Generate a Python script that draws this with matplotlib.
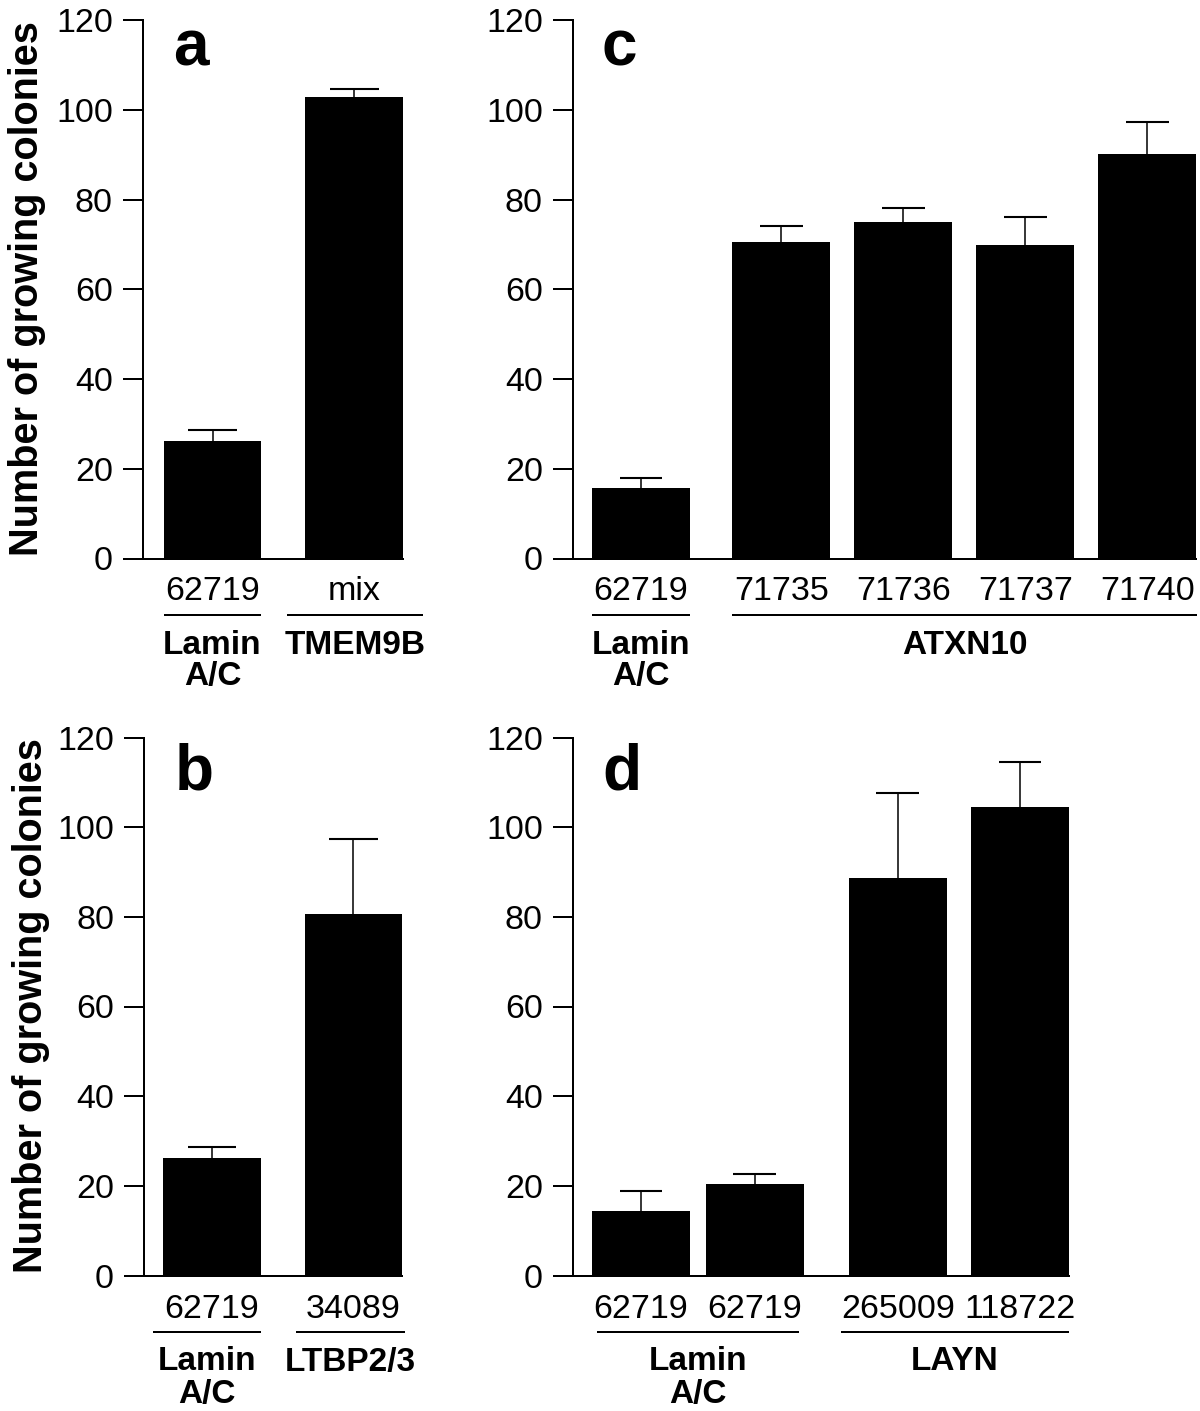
import matplotlib
matplotlib.use("Agg")
import matplotlib.pyplot as plt
from matplotlib.transforms import offset_copy
import numpy as np

plt.rcParams['font.family'] = ['Liberation Sans', 'DejaVu Sans']

# ---------------- data ----------------
a_labels = ["62719", "mix"]
a_values = [26.2, 102.9]
a_errors = [2.4, 1.7]
a_groups = ["Lamin\nA/C", "TMEM9B"]
a_members = [[0], [1]]

b_labels = ["62719", "34089"]
b_values = [26.2, 80.6]
b_errors = [2.5, 16.8]
b_groups = ["Lamin\nA/C", "LTBP2/3"]
b_members = [[0], [1]]

c_labels = ["62719", "71735", "71736", "71737", "71740"]
c_values = [15.7, 70.5, 74.9, 69.9, 90.1]
c_errors = [2.2, 3.5, 3.3, 6.1, 7.1]
c_groups = ["Lamin\nA/C", "ATXN10"]
c_members = [[0], [1, 2, 3, 4]]

d_labels = ["62719", "62719", "265009", "118722"]
d_values = [14.4, 20.5, 88.6, 104.6]
d_errors = [4.5, 2.2, 19.0, 9.9]
d_groups = ["Lamin\nA/C", "LAYN"]
d_members = [[0, 1], [2, 3]]

y_ticks = [0, 20, 40, 60, 80, 100, 120]
y_label = "Number of growing colonies"

# ---------------- layout ----------------
W, H, DPI = 1200, 1411, 100
fig = plt.figure(figsize=(W / DPI, H / DPI), dpi=DPI)

def px_axes(left, right, top, bottom):
    return fig.add_axes([left / W, 1 - bottom / H, (right - left) / W, (bottom - top) / H])

panels = [
    dict(box=(143, 403, 20, 558.5), pos=[0, 1], width=0.69, lead=0.491, cap=0.173,
         labels=a_labels, values=a_values, errors=a_errors, groups=a_groups, members=a_members,
         ext=[(0.0, 0.0), (0.127, 0.141)], letter="a", letter_xy=(173, 65)),
    dict(box=(144, 402, 737.5, 1275.5), pos=[0, 1], width=0.69, lead=0.482, cap=0.173,
         labels=b_labels, values=b_values, errors=b_errors, groups=b_groups, members=b_members,
         ext=[(0.07, 0.0), (0.064, 0.02)], letter="b", letter_xy=(175, 790)),
    dict(box=(573, 1196, 20, 558.5), pos=[0, 1.15, 2.15, 3.15, 4.15], width=0.8, lead=0.557, cap=0.175,
         labels=c_labels, values=c_values, errors=c_errors, groups=c_groups, members=c_members,
         ext=[(0.0, 0.0), (0.0, 0.01)], letter="c", letter_xy=(602, 65)),
    dict(box=(573, 1069, 737.5, 1275.5), pos=[0, 0.93, 2.1, 3.1], width=0.8, lead=0.557, cap=0.175,
         labels=d_labels, values=d_values, errors=d_errors, groups=d_groups, members=d_members,
         ext=[(-0.04, -0.04), (0.065, 0.0)], letter="d", letter_xy=(602, 790)),
]

LW = 1.44
FS = 24.5
FSB = 24

for p in panels:
    ax = px_axes(*p["box"])
    pos = np.array(p["pos"], dtype=float)
    vals = np.array(p["values"])
    errs = np.array(p["errors"])
    w = p["width"]
    ax.bar(pos, vals, width=w, color="black", edgecolor="none", zorder=2)
    top = vals + errs
    ax.vlines(pos, vals, top, color="black", lw=1.1, zorder=1)
    ax.hlines(top, pos - p["cap"], pos + p["cap"], color="black", lw=1.5, zorder=1)

    ax.set_xlim(pos[0] - p["lead"], pos[-1] + w / 2)
    ax.set_ylim(0, 120)
    ax.set_yticks(y_ticks)
    ax.set_xticks([])
    for s in ("top", "right"):
        ax.spines[s].set_visible(False)
    for s in ("left", "bottom"):
        ax.spines[s].set_linewidth(LW)
    ax.tick_params(axis="y", length=14.4, width=LW, pad=7.2, labelsize=FS)

    base = ax.get_xaxis_transform()

    def below(d):
        return offset_copy(base, fig=fig, x=0, y=-d, units="dots")

    for x, lab in zip(pos, p["labels"]):
        ax.text(x, 0, lab, transform=below(42), ha="center", va="baseline", fontsize=FS)

    for g, m, e in zip(p["groups"], p["members"], p["ext"]):
        x0 = pos[m[0]] - w / 2 - e[0]
        x1 = pos[m[-1]] + w / 2 + e[1]
        ax.plot([x0, x1], [0, 0], transform=below(56), color="black", lw=LW,
                clip_on=False, solid_capstyle="butt")
        for i, line in enumerate(g.split("\n")):
            ax.text((x0 + x1) / 2, 0, line, transform=below(95 + 32 * i), ha="center",
                    va="baseline", fontsize=FSB, fontweight="bold")

    lx, ly = p["letter_xy"]
    fig.text(lx / W, 1 - ly / H, p["letter"], ha="left", va="baseline",
             fontsize=46, fontweight="bold")

fig.text(27 / W, 1 - 289 / H, y_label, rotation=90, ha="center", va="center",
         fontsize=28.5, fontweight="bold")
fig.text(31 / W, 1 - 1006 / H, y_label, rotation=90, ha="center", va="center",
         fontsize=28.5, fontweight="bold")

fig.savefig("out.png", dpi=DPI, facecolor="white")
